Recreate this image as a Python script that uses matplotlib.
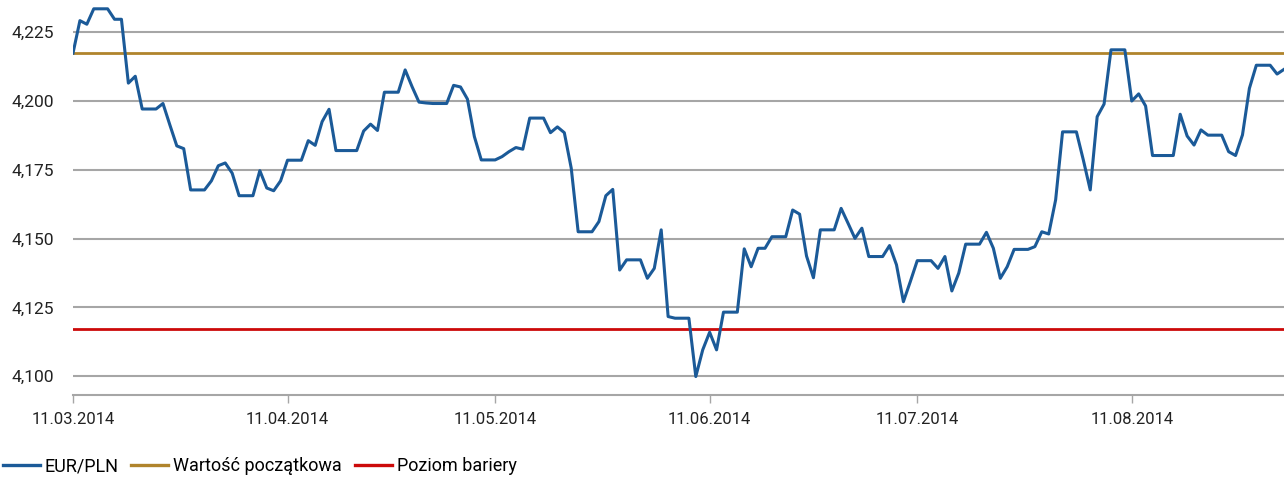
#!/usr/bin/env python

import matplotlib
matplotlib.use('Agg')
import matplotlib.pyplot as plt
import matplotlib.dates as mdates
import pandas as pd


START_DATE = '2014-03-11'

# daily EUR/PLN fixings, 11.03.2014 - 02.09.2014 (weekends carry Friday value)
EURPLN = [
    4.2174, 4.2292, 4.2279, 4.2335, 4.2335, 4.2335, 4.2297, 4.2297, 4.2065, 4.2090,
    4.1971, 4.1971, 4.1971, 4.1991, 4.1913, 4.1837, 4.1827, 4.1677, 4.1677, 4.1677,
    4.1710, 4.1765, 4.1775, 4.1738, 4.1656, 4.1656, 4.1656, 4.1747, 4.1684, 4.1674,
    4.1710, 4.1785, 4.1785, 4.1785, 4.1856, 4.1839, 4.1925, 4.1970, 4.1820, 4.1820,
    4.1820, 4.1820, 4.1891, 4.1916, 4.1893, 4.2032, 4.2032, 4.2032, 4.2113, 4.2052,
    4.1996, 4.1993, 4.1991, 4.1991, 4.1991, 4.2057, 4.2051, 4.2007, 4.1871, 4.1786,
    4.1786, 4.1786, 4.1798, 4.1816, 4.1831, 4.1825, 4.1938, 4.1938, 4.1938, 4.1885,
    4.1906, 4.1885, 4.1756, 4.1525, 4.1525, 4.1525, 4.1562, 4.1656, 4.1679, 4.1386,
    4.1423, 4.1423, 4.1423, 4.1356, 4.1392, 4.1532, 4.1217, 4.1211, 4.1211, 4.1211,
    4.0999, 4.1096, 4.1160, 4.1096, 4.1233, 4.1233, 4.1233, 4.1463, 4.1398, 4.1465,
    4.1465, 4.1507, 4.1507, 4.1507, 4.1604, 4.1589, 4.1437, 4.1358, 4.1532, 4.1532,
    4.1532, 4.1610, 4.1556, 4.1501, 4.1538, 4.1435, 4.1435, 4.1435, 4.1475, 4.1405,
    4.1271, 4.1344, 4.1420, 4.1420, 4.1420, 4.1392, 4.1435, 4.1310, 4.1375, 4.1480,
    4.1480, 4.1480, 4.1523, 4.1465, 4.1356, 4.1398, 4.1461, 4.1461, 4.1461, 4.1471,
    4.1525, 4.1517, 4.1641, 4.1888, 4.1888, 4.1888, 4.1786, 4.1677, 4.1943, 4.1989,
    4.2186, 4.2186, 4.2186, 4.2000, 4.2026, 4.1982, 4.1802, 4.1802, 4.1802, 4.1802,
    4.1952, 4.1873, 4.1840, 4.1895, 4.1876, 4.1876, 4.1876, 4.1816, 4.1802, 4.1877,
    4.2046, 4.2130, 4.2130, 4.2130, 4.2098, 4.2115,
]
INITIAL_VALUE = 4.2174
BARRIER = 4.1172

Y_TICKS = [4.100, 4.125, 4.150, 4.175, 4.200, 4.225]
X_TICKS = ['2014-03-11', '2014-04-11', '2014-05-11', '2014-06-11',
           '2014-07-11', '2014-08-11']

LABELS = ['EUR/PLN', 'Wartość początkowa', 'Poziom bariery']


def main():
    plt.rcParams['font.family'] = ['Roboto', 'DejaVu Sans']
    dates = pd.date_range(START_DATE, periods=len(EURPLN), freq='D')

    fig = plt.figure(figsize=(12.84, 4.79), dpi=100)
    ax = fig.add_axes([73 / 1284, 1 - 395 / 479, 1 - 73 / 1284, 395 / 479])

    # grid
    for yv in Y_TICKS:
        ax.axhline(yv, color='#a6a6a6', lw=1.5, zorder=1)

    l1, = ax.plot(dates, EURPLN, color='#1b5a98', lw=2.2, zorder=4)
    l2 = ax.axhline(INITIAL_VALUE, color='#b0842c', lw=2.0, zorder=3)
    l3 = ax.axhline(BARRIER, color='#cc0a0a', lw=2.0, zorder=3)

    ax.set_xlim(dates[0], dates[-1])
    ax.set_ylim(4.0932, 4.2367)

    ax.set_yticks(Y_TICKS)
    ax.set_yticklabels(['{:.3f}'.format(v).replace('.', ',') for v in Y_TICKS])
    ticks = pd.to_datetime(X_TICKS)
    ax.set_xticks(ticks)
    ax.xaxis.set_major_formatter(mdates.DateFormatter('%d.%m.%Y'))

    for s in ['top', 'right', 'left']:
        ax.spines[s].set_visible(False)
    ax.spines['bottom'].set_color('#a6a6a6')
    ax.spines['bottom'].set_linewidth(1.5)
    ax.tick_params(axis='y', length=0, pad=14, labelsize=12.5, colors='#222222')
    ax.tick_params(axis='x', length=6, width=1, color='#a6a6a6', pad=6,
                   labelsize=12, labelcolor='#222222')

    leg = fig.legend([l1, l2, l3], LABELS, loc='lower left',
                     bbox_to_anchor=(0.002, 0.008), ncol=3, frameon=False,
                     fontsize=13, handlelength=2.05, handletextpad=0.28,
                     columnspacing=0.7, borderpad=0.0, borderaxespad=0.0)
    for h in leg.get_lines():
        h.set_linewidth(2.4)

    fig.savefig('out.png', dpi=100)


if __name__ == '__main__':
    main()
